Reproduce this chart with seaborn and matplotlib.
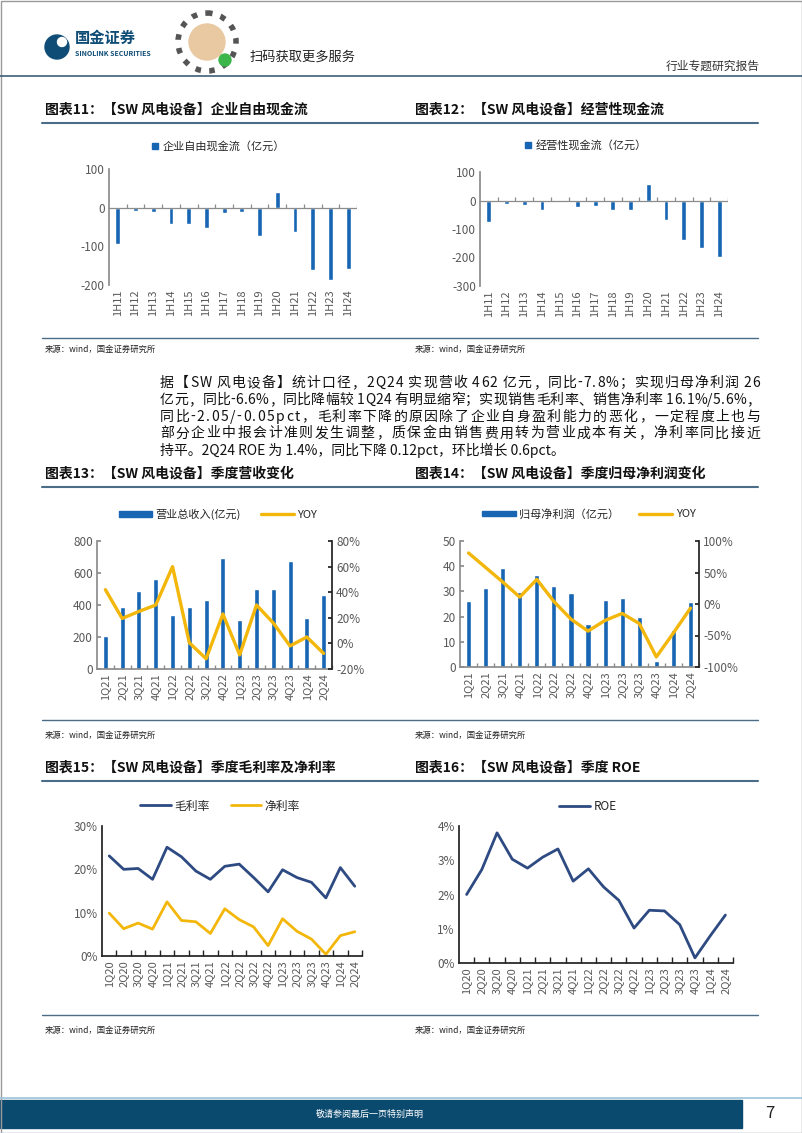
import numpy as np
import matplotlib
matplotlib.use('Agg')
import matplotlib.pyplot as plt
from matplotlib.patches import Patch, Rectangle, Circle
from matplotlib.lines import Line2D
import seaborn as sns

# ---- data ----
half_years = ['1H11', '1H12', '1H13', '1H14', '1H15', '1H16', '1H17',
              '1H18', '1H19', '1H20', '1H21', '1H22', '1H23', '1H24']
free_cf = [-94, -8, -10, -42, -43, -52, -13, -10, -74, 41, -64, -161, -188, -159]
oper_cf = [-75, -12, -16, -34, -3, -23, -19, -35, -34, 58, -69, -139, -165, -199]

q_from21 = ['1Q21', '2Q21', '3Q21', '4Q21', '1Q22', '2Q22', '3Q22',
            '4Q22', '1Q23', '2Q23', '3Q23', '4Q23', '1Q24', '2Q24']
revenue = [206, 385, 489, 565, 335, 385, 430, 694, 304, 497, 501, 678, 320, 462]
revenue_yoy = [42, 19.5, 25, 30, 60, 0.5, -12, 23, -9, 30, 16, -2, 5, -7.8]
profit = [26.0, 31.5, 39.2, 29.9, 36.5, 32.1, 29.2, 16.9, 26.6, 27.4, 19.8, 2.4, 14.7, 25.6]
profit_yoy = [81, 58, 35, 11, 39, 4, -24, -43, -26, -15, -31, -84, -46, -6.6]

q_from20 = ['1Q20', '2Q20', '3Q20', '4Q20'] + q_from21
gross_margin = [23.1, 20.0, 20.2, 17.7, 25.1, 22.9, 19.6, 17.7, 20.7,
                21.2, 18.1, 14.8, 19.9, 18.1, 17.0, 13.4, 20.4, 16.1]
net_margin = [9.9, 6.3, 7.6, 6.2, 12.5, 8.2, 7.9, 5.2, 10.9,
              8.4, 6.7, 2.4, 8.6, 5.7, 3.9, 0.4, 4.7, 5.6]
roe = [2.0, 2.73, 3.8, 3.03, 2.77, 3.09, 3.33, 2.39, 2.75,
       2.22, 1.83, 1.02, 1.54, 1.52, 1.12, 0.15, 0.79, 1.4]

titles = ['图表11：【SW 风电设备】企业自由现金流', '图表12：【SW 风电设备】经营性现金流',
          '图表13：【SW 风电设备】季度营收变化', '图表14：【SW 风电设备】季度归母净利润变化',
          '图表15：【SW 风电设备】季度毛利率及净利率', '图表16：【SW 风电设备】季度 ROE']
source = '来源：wind，国金证券研究所'
paragraph = ['据【SW 风电设备】统计口径，2Q24 实现营收 462 亿元，同比-7.8%；实现归母净利润 26',
             '亿元，同比-6.6%，同比降幅较 1Q24 有明显缩窄；实现销售毛利率、销售净利率 16.1%/5.6%，',
             '同比-2.05/-0.05pct，毛利率下降的原因除了企业自身盈利能力的恶化，一定程度上也与',
             '部分企业中报会计准则发生调整，质保金由销售费用转为营业成本有关，净利率同比接近',
             '持平。2Q24 ROE 为 1.4%，同比下降 0.12pct，环比增长 0.6pct。']

sns.set_theme(style='white')
plt.rcParams['font.family'] = ['Noto Sans CJK SC', 'DejaVu Sans']
plt.rcParams['axes.unicode_minus'] = False

BLUE = '#1765b3'
YELLOW = '#f3b70c'
NAVY = '#2e4a82'
GRAY = '#8c8c8c'
TXT = '#595959'
RULE = '#4b6d88'

W, H = 802, 1133
fig = plt.figure(figsize=(W / 100, H / 100), dpi=100)
renderer = fig.canvas.get_renderer()

# page decoration layer in pixel coordinates
bg = fig.add_axes([0, 0, 1, 1])
bg.set_xlim(0, W)
bg.set_ylim(H, 0)
bg.axis('off')
bg.set_zorder(-1)


def px_axes(x0, y0, x1, y1):
    a = fig.add_axes([x0 / W, 1 - y1 / H, (x1 - x0) / W, (y1 - y0) / H])
    a.set_facecolor('none')
    return a


def style_ticks(a, n, ycolor=GRAY):
    a.set_xticks(range(n))
    a.tick_params(axis='x', which='major', length=0, labelrotation=90,
                  labelsize=8, labelcolor=TXT, pad=3)
    a.tick_params(axis='y', direction='in', length=3, color=ycolor,
                  labelsize=8.5, labelcolor=TXT, pad=3)
    a.set_xlabel('')
    a.set_ylabel('')
    a.set_xlim(-0.5, n - 0.5)
    for s in ['top', 'right']:
        a.spines[s].set_visible(False)


def text_width(s, size):
    t = bg.text(0, 0, s, fontsize=size)
    w = t.get_window_extent(renderer).width
    t.remove()
    return w


def justified_line(x0, x1, y, line, size):
    # place each character so that the line fills x0..x1
    bar = text_width('|', size)
    pos = [text_width(line[:k] + '|', size) - bar for k in range(len(line))]
    natural = text_width(line + '|', size) - bar
    extra = (x1 - x0 - natural) / (len(line) - 1)
    for k, ch in enumerate(line):
        if ch != ' ':
            bg.text(x0 + pos[k] + extra * k, y, ch, fontsize=size, color='#111111', va='center')


# ---- header ----
bg.add_patch(Circle((57, 47), 12, color='#0f4d76'))
bg.add_patch(Circle((62, 42), 4.5, color='white'))
bg.text(75, 46, '国金证券', fontsize=11, fontweight='bold', color='#0f4d76', va='bottom')
bg.text(75, 57, 'SINOLINK SECURITIES', fontsize=5, fontweight='bold', color='#0f4d76', va='bottom')
bg.add_patch(Circle((207, 42), 29, fill=False, ec='#555555', lw=4, ls=(0, (1, 1.5))))
bg.add_patch(Circle((207, 42), 18, color='#e9c9a2'))
bg.add_patch(Circle((225, 60), 6, color='#3cb54a'))
bg.text(250, 57, '扫码获取更多服务', fontsize=9.5, color='#222222', va='center')
bg.text(760, 66, '行业专题研究报告', fontsize=8.5, color='#333333', ha='right', va='center')
bg.plot([0, W], [76, 76], color='#3e5d78', lw=1.2)

# ---- titles, rules, sources ----
for row, (ty, ly, sy) in enumerate([(110, 338, 349), (474, 720, 735), (768, 1015, 1030)]):
    bg.text(45, ty, titles[2 * row], fontsize=10, fontweight='bold', color='#111111', va='center')
    bg.text(415, ty, titles[2 * row + 1], fontsize=10, fontweight='bold', color='#111111', va='center')
    bg.plot([42, 758], [ty + 13, ty + 13], color=RULE, lw=1.5)
    bg.plot([42, 758], [ly, ly], color=RULE, lw=1.0)
    bg.text(45, sy, source, fontsize=6, color='#222222', va='center')
    bg.text(415, sy, source, fontsize=6, color='#222222', va='center')

for i, line in enumerate(paragraph):
    y = 383 + i * 16.8
    if i < len(paragraph) - 1:
        justified_line(160, 760, y, line, 10)
    else:
        bg.text(160, y, line, fontsize=10, color='#111111', va='center')

# ---- footer ----
bg.plot([0, W], [1098, 1098], color='#9cc3da', lw=1.2)
bg.add_patch(Rectangle((0, 1100), 742, 28, color='#0b4a6f'))
bg.text(370, 1114, '敬请参阅最后一页特别声明', fontsize=6.5, color='white', ha='center', va='center')
bg.text(770, 1114, '7', fontsize=12, color='#222222', ha='center', va='center')
bg.add_patch(Rectangle((0.5, 0.5), W - 1, H - 1, fill=False, ec='#9a9a9a', lw=1))


# ---- charts 11 & 12: cash flow bars ----
def cash_chart(box, values, yticks, label, legend_xy):
    a = px_axes(*box)
    n = len(half_years)
    sns.barplot(x=half_years, y=values, color=BLUE, width=0.28, saturation=1, ax=a)
    a.set_ylim(yticks[-1], yticks[0])
    a.set_yticks(yticks)
    style_ticks(a, n)
    a.spines['bottom'].set_visible(False)
    a.spines['left'].set_color(GRAY)
    a.axhline(0, color=GRAY, lw=0.9)
    span = yticks[0] - yticks[-1]
    a.vlines(np.arange(0.5, n), 0, span * 0.035, color=GRAY, lw=0.9)
    h = [Line2D([], [], ls='none', marker='s', markersize=4.5, color=BLUE)]
    fig.legend(h, [label], loc='center', bbox_to_anchor=(legend_xy[0] / W, 1 - legend_xy[1] / H),
               frameon=False, fontsize=8, handletextpad=0.3, handlelength=0.8)


cash_chart((109, 169, 357, 285), free_cf, [100, 0, -100, -200], '企业自由现金流（亿元）', (218, 146))
cash_chart((480, 172, 728, 286), oper_cf, [100, 0, -100, -200, -300], '经营性现金流（亿元）', (585, 145))


# ---- charts 13 & 14: bars + YOY line ----
def combo_chart(box, bars, yoy, ylim, yticks, y2lim, y2ticks, label, legend_xy):
    a = px_axes(*box)
    n = len(q_from21)
    sns.barplot(x=q_from21, y=bars, color=BLUE, width=0.3, saturation=1, ax=a)
    a.set_ylim(*ylim)
    a.set_yticks(yticks)
    style_ticks(a, n)
    a.spines['left'].set_color(GRAY)
    a.spines['bottom'].set_color(GRAY)
    a.set_xticks(np.arange(0.5, n), minor=True)
    a.tick_params(axis='x', which='minor', direction='in', length=3, color=GRAY, bottom=True)
    b = a.twinx()
    sns.lineplot(x=np.arange(n), y=yoy, color=YELLOW, lw=2.4, ax=b)
    b.set_ylim(*y2lim)
    b.set_yticks(y2ticks)
    b.set_yticklabels([f'{t}%' for t in y2ticks])
    b.set_ylabel('')
    b.set_xlim(-0.5, n - 0.5)
    for s in ['top', 'left', 'bottom']:
        b.spines[s].set_visible(False)
    b.spines['right'].set_color('#222222')
    b.tick_params(axis='y', direction='in', length=3, color='#222222',
                  labelsize=8.5, labelcolor=TXT, pad=3)
    h = [Patch(color=BLUE), Line2D([], [], color=YELLOW, lw=2.4)]
    fig.legend(h, [label, 'YOY'], loc='center', ncol=2,
               bbox_to_anchor=(legend_xy[0] / W, 1 - legend_xy[1] / H),
               frameon=False, fontsize=8, handlelength=3.0, handleheight=0.45,
               handletextpad=0.3, columnspacing=1.8)


combo_chart((97, 541, 332, 669), revenue, revenue_yoy, (0, 800), [0, 200, 400, 600, 800],
            (-20, 80), [-20, 0, 20, 40, 60, 80], '营业总收入(亿元)', (218, 514))
combo_chart((460, 541, 699, 667), profit, profit_yoy, (0, 50), [0, 10, 20, 30, 40, 50],
            (-100, 100), [-100, -50, 0, 50, 100], '归母净利润（亿元）', (589, 514))


# ---- charts 15 & 16: margin lines ----
def line_chart(box, series, ylim, yticks, legend_xy):
    a = px_axes(*box)
    n = len(q_from20)
    x = np.arange(n)
    handles, labels = [], []
    for name, vals, col in series:
        sns.lineplot(x=x, y=vals, color=col, lw=2.0, ax=a)
        handles.append(Line2D([], [], color=col, lw=2.0))
        labels.append(name)
    a.set_ylim(*ylim)
    a.set_yticks(yticks)
    style_ticks(a, n, ycolor='#222222')
    a.set_xticklabels(q_from20)
    a.set_yticklabels([f'{t}%' for t in yticks])
    a.spines['left'].set_color('#222222')
    a.spines['bottom'].set_color('#222222')
    a.set_xticks(np.arange(0.5, n), minor=True)
    a.tick_params(axis='x', which='minor', direction='in', length=4, color='#222222', bottom=True)
    fig.legend(handles, labels, loc='center', ncol=len(series),
               bbox_to_anchor=(legend_xy[0] / W, 1 - legend_xy[1] / H),
               frameon=False, fontsize=8.5, handlelength=2.6,
               handletextpad=0.3, columnspacing=1.8)


line_chart((102, 826, 362, 956), [('毛利率', gross_margin, NAVY), ('净利率', net_margin, YELLOW)],
           (0, 30), [0, 10, 20, 30], (220, 806))
line_chart((459, 826, 733, 963), [('ROE', roe, NAVY)], (0, 4), [0, 1, 2, 3, 4], (588, 807))

fig.savefig('out.png', dpi=100)
